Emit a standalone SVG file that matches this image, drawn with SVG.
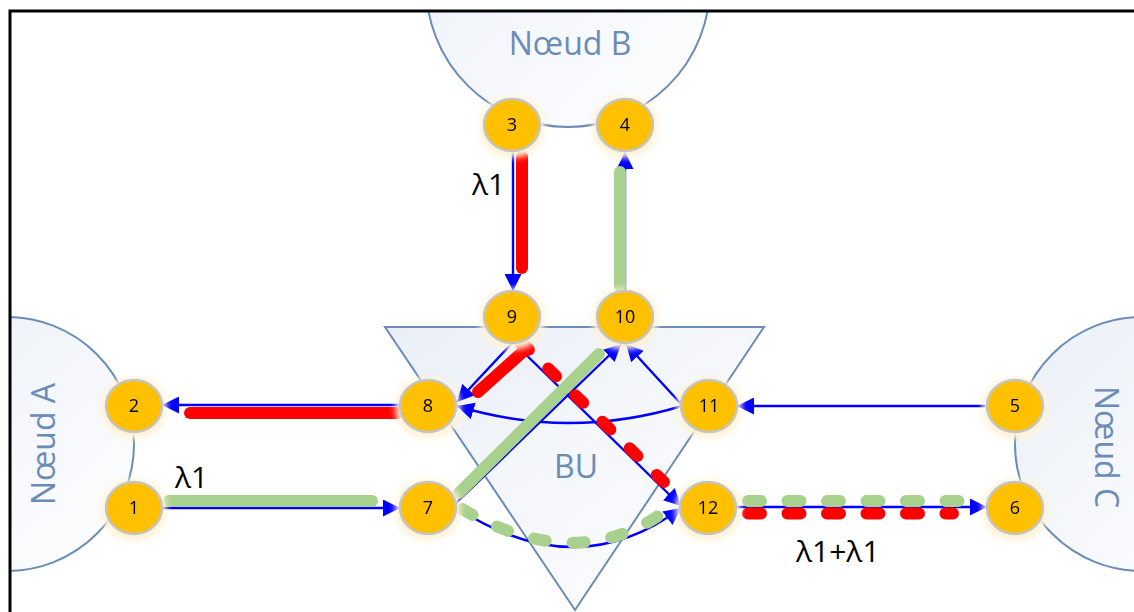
<svg xmlns="http://www.w3.org/2000/svg" width="1134" height="612" viewBox="0 0 1134 612">
<style>
.big{fill:url(#bg);stroke:#6A8CB6;stroke-width:2}
.blbl{font-family:"Open Sans","Liberation Sans",sans-serif;font-size:32px;fill:#6A8CB6;text-anchor:middle}
.node ellipse{fill:#FFC000;stroke:#C4C4C4;stroke-width:2.5}
.node text{font-family:"Open Sans","Liberation Sans",sans-serif;font-size:18px;fill:#000;text-anchor:middle}
.con{fill:none;stroke:#0000FF;stroke-width:2.4;marker-end:url(#arr)}
.red{fill:none;stroke:#FF0000;stroke-width:12;stroke-linecap:round}
.grn{fill:none;stroke:#A9D18E;stroke-width:12;stroke-linecap:round}
.dash{stroke-dasharray:13 26.5}
.lam{font-family:"Open Sans","Liberation Sans",sans-serif;font-size:30px;fill:#000}
</style>
<defs>
<linearGradient id="bg" x1="0" y1="0" x2="1" y2="1">
<stop offset="0" stop-color="#EAEFF7"/>
<stop offset="1" stop-color="#FFFFFF"/>
</linearGradient>
<clipPath id="frame"><rect x="10" y="11" width="1130" height="610"/></clipPath>
<filter id="glow" x="-40%" y="-40%" width="180%" height="180%">
<feMorphology in="SourceAlpha" operator="dilate" radius="3" result="d"/>
<feOffset in="d" dy="2" result="o"/>
<feGaussianBlur in="o" stdDeviation="3" result="b"/>
<feFlood flood-color="#FFF3D6"/>
<feComposite in2="b" operator="in" result="g"/>
<feMerge><feMergeNode in="g"/><feMergeNode in="SourceGraphic"/></feMerge>
</filter>
<marker id="arr" markerUnits="userSpaceOnUse" viewBox="0 0 17 17" refX="17" refY="8.5" markerWidth="17" markerHeight="17" orient="auto">
<path d="M0,0 L17,8.5 L0,17 Z" fill="#0000FF"/>
</marker>
</defs>
<rect width="1134" height="612" fill="#FFFFFF"/>
<g id="regions" clip-path="url(#frame)">
<g id="noeudB"><circle class="big" cx="568" cy="-15" r="142"/><text class="blbl" x="570" y="55">Nœud B</text></g>
<g id="noeudA"><circle class="big" cx="7" cy="444" r="127"/><text class="blbl" transform="translate(55,444) rotate(-90)">Nœud A</text></g>
<g id="noeudC"><circle class="big" cx="1142" cy="444" r="127"/><text class="blbl" transform="translate(1095,447) rotate(90)">Nœud C</text></g>
<g id="BU"><path class="big" d="M385,327 L764,327 L575,610 Z"/><text class="blbl" x="576" y="478">BU</text></g>
</g>
<g id="connectors">
<path class="con" d="M513,152 L513,291"/>
<path class="con" d="M625,292 L625,152"/>
<path class="con" d="M400,405 L162,405"/>
<path class="con" d="M162,508 L400,508"/>
<path class="con" d="M987,406 L737,406"/>
<path class="con" d="M736,507 L987,507"/>
<path class="con" d="M682,405 L626,344"/>
<path class="con" d="M456,503 L621,344"/>
<path class="con" d="M513,342 L457,402"/>
<path class="con" d="M513,342 L681,506"/>
<path class="con" d="M682,406 Q569,440 457,406"/>
<path class="con" d="M457,508 Q577,586 681,508"/>
</g>
<g id="paths">
<path class="red" d="M522,157 L522,268"/>
<path class="grn" d="M620,172 L620,286"/>
<path class="red" d="M190,413 L397,413"/>
<path class="grn" d="M169,501 L372,501"/>
<path class="red" d="M478,392 L527,348"/>
<path class="red" stroke-dasharray="11 27" d="M521,342 L664,482"/>
<path class="grn" stroke-width="13" d="M459,493 L599,354"/>
<path class="grn" stroke-dasharray="12 27" d="M462,509 Q575,575 664,512"/>
<path class="grn dash" d="M748,501 L959,501"/>
<path class="red dash" d="M748,513.5 L953,513.5"/>
</g>
<g id="labels">
<text class="lam" x="472" y="195">λ1</text>
<text class="lam" x="175" y="488">λ1</text>
<text class="lam" x="796" y="562">λ1+λ1</text>
</g>
<g id="n1" class="node" filter="url(#glow)"><ellipse cx="134" cy="508" rx="28" ry="26"/><text x="134" y="514">1</text></g>
<g id="n2" class="node" filter="url(#glow)"><ellipse cx="134" cy="406" rx="28" ry="26"/><text x="134" y="412">2</text></g>
<g id="n3" class="node" filter="url(#glow)"><ellipse cx="512" cy="125" rx="28" ry="26"/><text x="512" y="131">3</text></g>
<g id="n4" class="node" filter="url(#glow)"><ellipse cx="625" cy="125" rx="28" ry="26"/><text x="625" y="131">4</text></g>
<g id="n5" class="node" filter="url(#glow)"><ellipse cx="1015" cy="406" rx="28" ry="26"/><text x="1015" y="412">5</text></g>
<g id="n6" class="node" filter="url(#glow)"><ellipse cx="1015" cy="508" rx="28" ry="26"/><text x="1015" y="514">6</text></g>
<g id="n7" class="node" filter="url(#glow)"><ellipse cx="428" cy="508" rx="28" ry="26"/><text x="428" y="514">7</text></g>
<g id="n8" class="node" filter="url(#glow)"><ellipse cx="428" cy="406" rx="28" ry="26"/><text x="428" y="412">8</text></g>
<g id="n9" class="node" filter="url(#glow)"><ellipse cx="512" cy="317" rx="28" ry="26"/><text x="512" y="323">9</text></g>
<g id="n10" class="node" filter="url(#glow)"><ellipse cx="625" cy="317" rx="28" ry="26"/><text x="625" y="323">10</text></g>
<g id="n11" class="node" filter="url(#glow)"><ellipse cx="709" cy="406" rx="28" ry="26"/><text x="709" y="412">11</text></g>
<g id="n12" class="node" filter="url(#glow)"><ellipse cx="708" cy="508" rx="28" ry="26"/><text x="708" y="514">12</text></g>
<rect id="border" x="10" y="11" width="1140" height="620" fill="none" stroke="#000" stroke-width="3"/>
</svg>
